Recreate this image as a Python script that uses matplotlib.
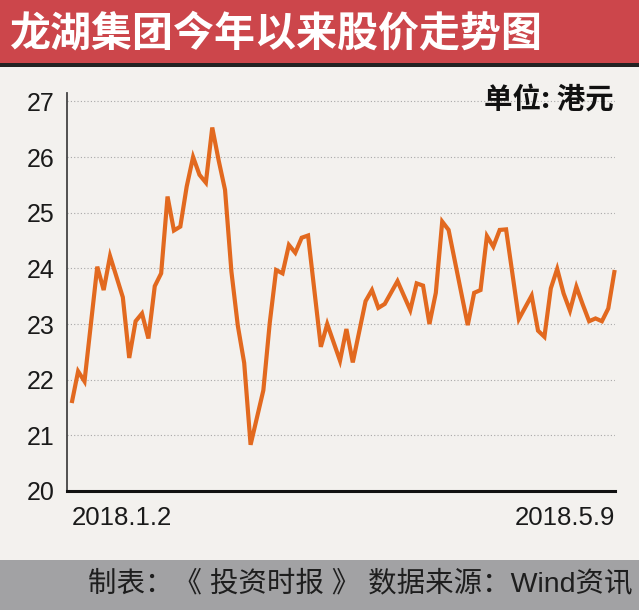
import matplotlib
matplotlib.use('Agg')
import matplotlib.pyplot as plt
from matplotlib.patches import Rectangle

# trading day index (0 = 2018.1.2, 85 = 2018.5.9) and closing price, HKD
days = [0, 1, 2, 4, 5, 6, 8, 9, 10, 11, 12, 13, 14, 15, 16, 17, 18, 19, 20, 21,
        22, 23, 24, 25, 26, 27, 28, 30, 31, 32, 33, 34, 35, 36, 37, 39, 40, 42, 43, 44,
        46, 47, 48, 49, 51, 53, 54, 55, 56, 57, 58, 59, 62, 63, 64, 65, 66, 67, 68, 70,
        72, 73, 74, 75, 76, 77, 78, 79, 80, 81, 82, 83, 84, 85]
prices = [21.58, 22.15, 21.97, 24.03, 23.61, 24.22, 23.48, 22.39, 23.05, 23.19,
          22.74, 23.68, 23.91, 25.29, 24.68, 24.75, 25.47, 26.00, 25.68, 25.54,
          26.53, 25.94, 25.41, 23.94, 22.97, 22.30, 20.83, 21.81, 23.02, 23.97,
          23.91, 24.42, 24.28, 24.55, 24.59, 22.59, 23.00, 22.34, 22.91, 22.31,
          23.41, 23.61, 23.29, 23.36, 23.77, 23.25, 23.73, 23.69, 23.00, 23.56,
          24.84, 24.69, 22.98, 23.56, 23.61, 24.58, 24.39, 24.69, 24.70, 23.09,
          23.51, 22.88, 22.77, 23.64, 23.99, 23.55, 23.24, 23.67, 23.35, 23.05,
          23.10, 23.05, 23.28, 23.97]
yticks = [20, 21, 22, 23, 24, 25, 26, 27]
xtick_pos = [0, 85]
xtick_labels = ['2018.1.2', '2018.5.9']

title = '龙湖集团今年以来股价走势图'
unit = '单位: 港元'
footer = '制表：《 投资时报 》 数据来源：Wind资讯'

fonts = ['Liberation Sans', 'Noto Sans CJK SC', 'DejaVu Sans']
plt.rcParams['font.family'] = fonts

bg = '#f3f1ee'
fig = plt.figure(figsize=(6.39, 6.10), dpi=100, facecolor=bg)

# header and footer bands
fig.patches.append(Rectangle((0, 1 - 63 / 610), 1, 63 / 610, transform=fig.transFigure,
                             facecolor='#cc464b', edgecolor='none', zorder=0))
fig.patches.append(Rectangle((0, 1 - 67 / 610), 1, 4 / 610, transform=fig.transFigure,
                             facecolor='#222222', edgecolor='none', zorder=0))
fig.patches.append(Rectangle((0, 0), 1, 50 / 610, transform=fig.transFigure,
                             facecolor='#a2a2a4', edgecolor='none', zorder=0))

fig.text(0.016, 1 - 33 / 610, title, color='white', fontsize=29.5, fontweight='bold',
         family=['Noto Sans CJK SC'], ha='left', va='center')
fig.text(633 / 639, 25 / 610, footer, color='#1e1e1e', fontsize=20.5,
         ha='right', va='center')

ax = fig.add_axes([67 / 639, 119 / 610, 548 / 639, 398 / 610])
ax.set_facecolor(bg)
ax.plot(days, prices, color='#e2691f', lw=3.0, solid_joinstyle='miter',
        solid_capstyle='butt', zorder=3, clip_on=False)

ax.set_xlim(-0.74, 85.05)
ax.set_ylim(20, 27.15)
ax.set_yticks(yticks)
ax.set_yticklabels([str(t) for t in yticks])
ax.set_xticks(xtick_pos)
ax.set_xticklabels(xtick_labels)
xl = ax.get_xticklabels()
xl[0].set_ha('left')
xl[1].set_ha('right')

ax.tick_params(axis='y', length=0, pad=9, labelsize=18, labelcolor='#1a1a1a')
ax.tick_params(axis='x', length=0, pad=11, labelsize=18.5, labelcolor='#1a1a1a')
ax.grid(axis='y', linestyle=(0, (1, 2)), color='#a8a8a8', lw=0.8)
ax.set_axisbelow(True)

for s in ['top', 'right']:
    ax.spines[s].set_visible(False)
ax.spines['left'].set_color('#444444')
ax.spines['left'].set_linewidth(1.3)
ax.spines['bottom'].set_color('#111111')
ax.spines['bottom'].set_linewidth(2.2)

fig.text(614 / 639, 1 - 100 / 610, unit, fontsize=20.5, fontweight='bold',
         family=['Noto Sans CJK SC'], ha='right', va='center', color='#111111')

fig.savefig('out.png', dpi=100, facecolor=bg)
